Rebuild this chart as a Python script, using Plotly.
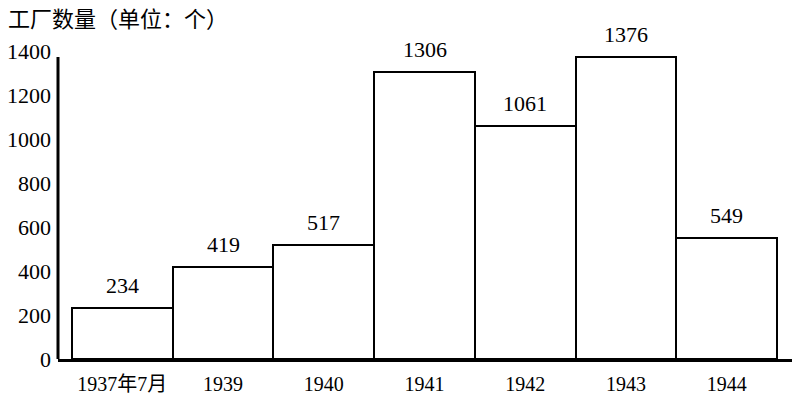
import plotly.graph_objects as go

categories = ["1937年7月", "1939", "1940", "1941", "1942", "1943", "1944"]
factories = [234, 419, 517, 1306, 1061, 1376, 549]
y_ticks = [0, 200, 400, 600, 800, 1000, 1200, 1400]
title_text = "工厂数量（单位：个）"

SERIF = "Liberation Serif, Times New Roman, Noto Sans CJK SC, serif"

fig = go.Figure()
fig.add_trace(go.Bar(
    x=categories,
    y=factories,
    marker=dict(color="white", line=dict(color="black", width=2)),
    width=1.0,
    hoverinfo="skip",
))

for i, v in enumerate(factories):
    fig.add_annotation(
        x=i, y=v, text=str(v), showarrow=False,
        yanchor="bottom", yshift=8,
        font=dict(family=SERIF, size=22, color="black"),
    )

# y-axis line (stops near the top of the tallest bar, like the reference)
fig.add_shape(
    type="line", xref="paper", yref="y",
    x0=0, x1=0, y0=0, y1=1376,
    line=dict(color="black", width=3),
)

fig.update_layout(
    width=795, height=396,
    margin=dict(l=58, r=3, t=40, b=37, autoexpand=False),
    paper_bgcolor="white", plot_bgcolor="white",
    bargap=0,
    showlegend=False,
    title=dict(
        text=title_text, xref="container", yref="container",
        x=0.01, y=0.951, xanchor="left", yanchor="middle",
        font=dict(family="Noto Sans CJK SC", size=22, color="black"),
    ),
    xaxis=dict(
        type="category",
        range=[-0.639, 6.649],
        automargin=False,
        showline=True, linecolor="black", linewidth=3,
        showgrid=False, zeroline=False, ticks="",
        ticklabelstandoff=5,
        tickfont=dict(family=SERIF, size=20, color="black"),
    ),
    yaxis=dict(
        range=[0, 1453],
        tickvals=y_ticks,
        automargin=False,
        showline=False, showgrid=False, zeroline=False, ticks="",
        ticklabelstandoff=6,
        tickfont=dict(family=SERIF, size=22, color="black"),
    ),
)

fig.write_html("out.html")
